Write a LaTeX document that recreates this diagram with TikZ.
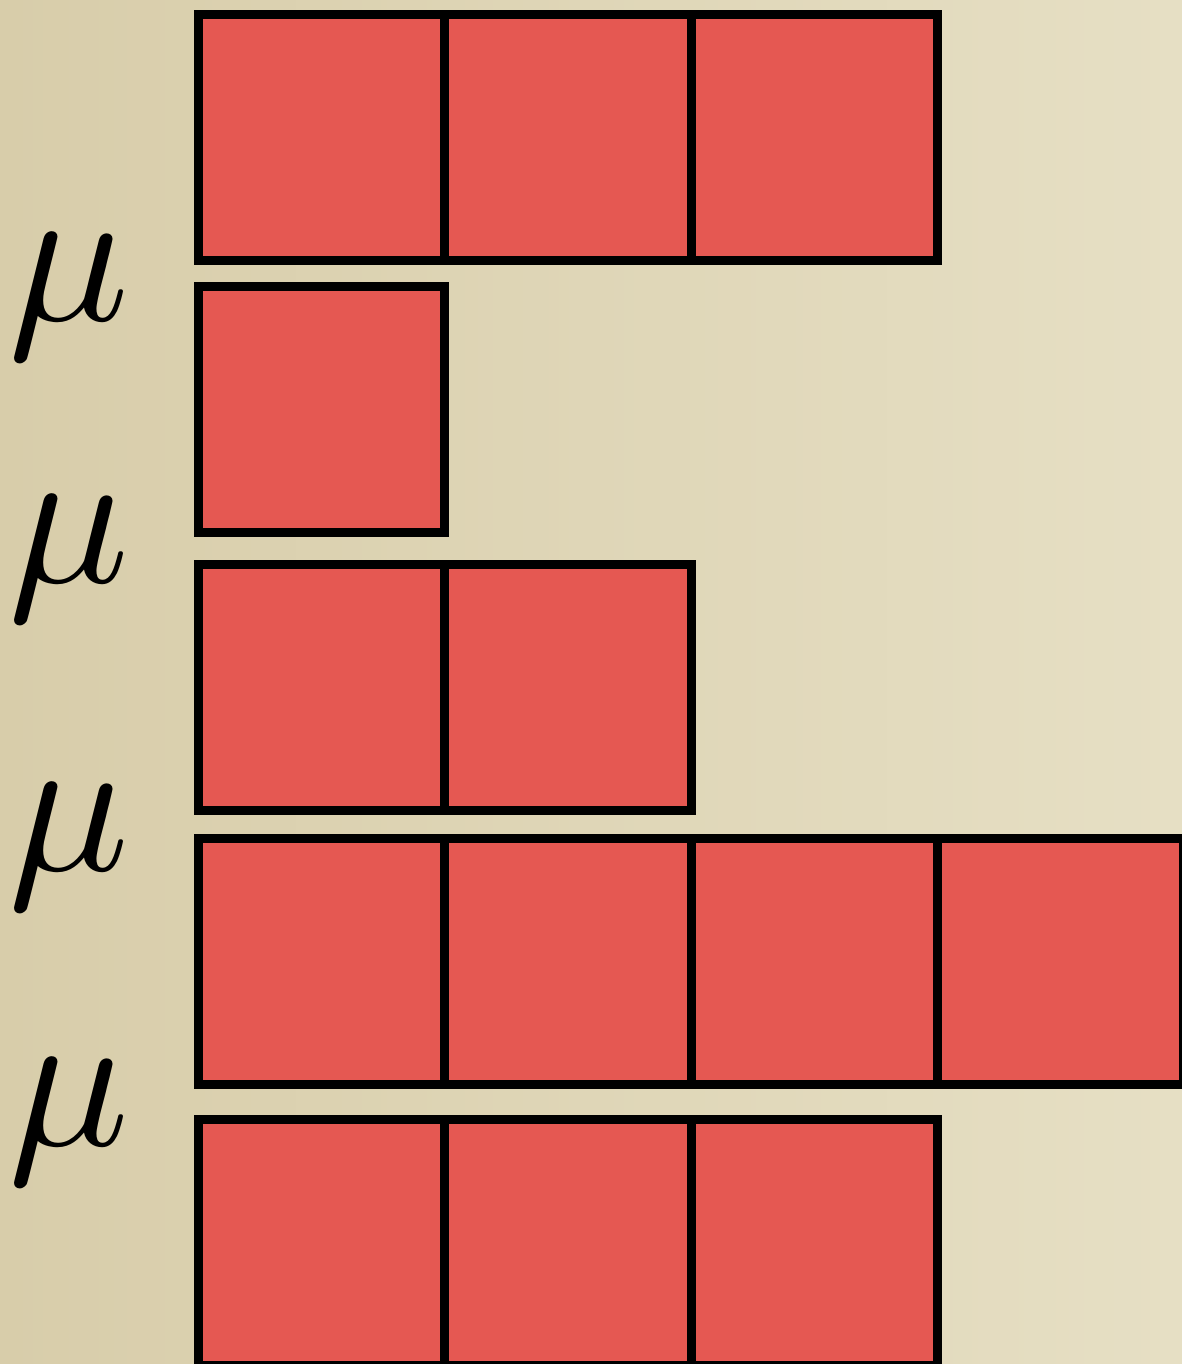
\documentclass[tikz,border=0pt]{standalone}
\usetikzlibrary{positioning}
\definecolor{cellred}{HTML}{E55852}
\definecolor{bgL}{HTML}{D8CDAA}
\definecolor{bgM}{HTML}{E8E3CA}
\definecolor{bgR}{HTML}{E6DFC4}
\tikzset{
  cell/.style={draw=black, fill=cellred, line width=9pt, rectangle, outer sep=0pt,
    minimum width=246.3pt, minimum height=246.3pt, inner sep=0pt, anchor=north west},
  mulabel/.style={inner sep=0pt, outer sep=0pt, anchor=base west, scale=20.1}
}
\begin{document}
\begin{tikzpicture}[x=1pt,y=-1pt]
\useasboundingbox (0,0) rectangle (1182,1364);
\shade[left color=bgL, middle color=bgM, right color=bgR] (0,0) rectangle (1182,1364);
% row 1
\node[cell] (r1c1) at (198.5,14.5) {};
\node[cell] (r1c2) at (444.8,14.5) {};
\node[cell] (r1c3) at (691.1,14.5) {};
% row 2
\node[cell] (r2c1) at (198.5,286.5) {};
% row 3
\node[cell] (r3c1) at (198.5,564.5) {};
\node[cell] (r3c2) at (444.8,564.5) {};
% row 4
\node[cell] (r4c1) at (198.5,838.5) {};
\node[cell] (r4c2) at (444.8,838.5) {};
\node[cell] (r4c3) at (691.1,838.5) {};
\node[cell] (r4c4) at (937.4,838.5) {};
% row 5
\node[cell] (r5c1) at (198.5,1119) {};
\node[cell] (r5c2) at (444.8,1119) {};
\node[cell] (r5c3) at (691.1,1119) {};
% labels
\node[mulabel] (mu1) at (8.5,320) {$\mu$};
\node[mulabel] (mu2) at (8.5,582) {$\mu$};
\node[mulabel] (mu3) at (8.5,870) {$\mu$};
\node[mulabel] (mu4) at (8.5,1145) {$\mu$};
\end{tikzpicture}
\end{document}
